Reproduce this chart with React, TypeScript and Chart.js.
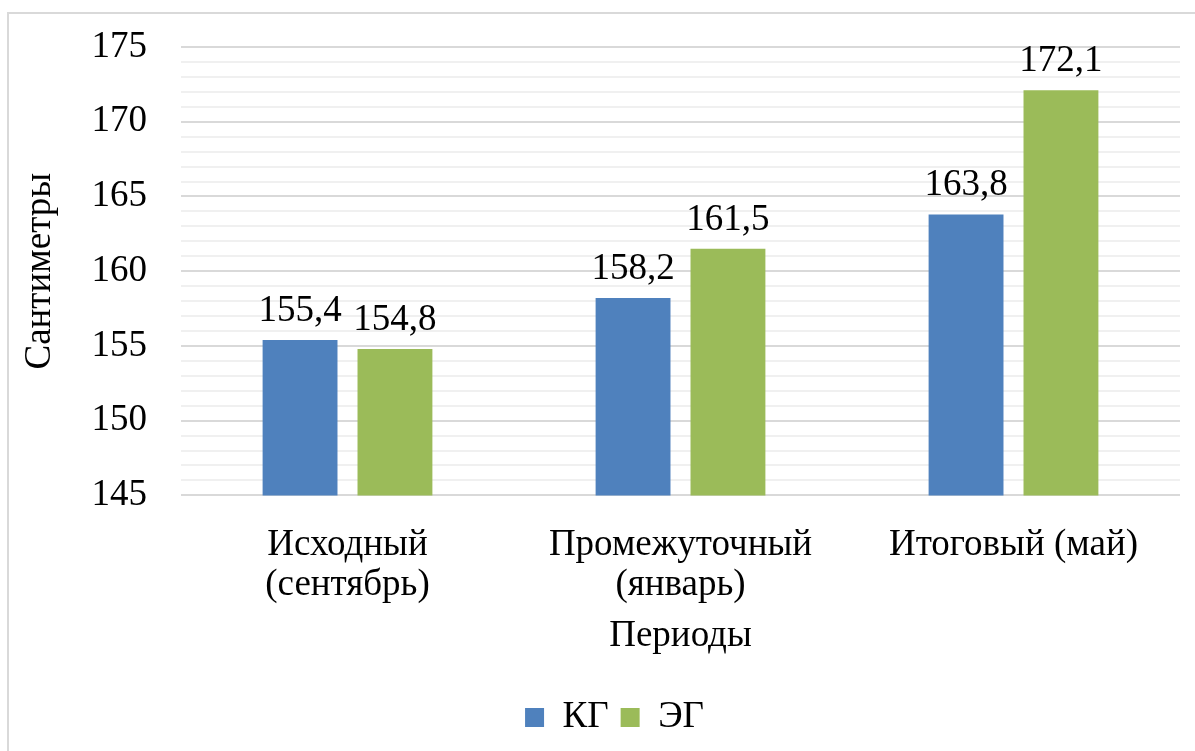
import React, { useEffect, useRef } from "react";
import { Chart, registerables } from "chart.js";

Chart.register(...registerables);

const categories: (string | string[])[] = [
  ["Исходный", "(сентябрь)"],
  ["Промежуточный", "(январь)"],
  "Итоговый (май)",
];
const seriesNames = ["КГ", "ЭГ"];
const kgValues = [155.4, 158.2, 163.8];
const egValues = [154.8, 161.5, 172.1];
const seriesColors = ["#4F81BD", "#9BBB59"];
const yMin = 145;
const yMax = 175;
const yTitle = "Сантиметры";
const xTitle = "Периоды";

const FONT = "'Liberation Serif', 'Times New Roman', serif";
const FS = 37;

const dataLabels = {
  id: "dataLabels",
  afterDatasetsDraw(chart: any) {
    const ctx = chart.ctx;
    ctx.save();
    ctx.font = `${FS}px ${FONT}`;
    ctx.fillStyle = "#000";
    ctx.textAlign = "center";
    ctx.textBaseline = "alphabetic";
    chart.data.datasets.forEach((ds: any, i: number) => {
      const meta = chart.getDatasetMeta(i);
      meta.data.forEach((bar: any, j: number) => {
        const v = ds.data[j] as number;
        ctx.fillText(v.toFixed(1).replace(".", ","), bar.x, bar.y - 19);
      });
    });
    ctx.restore();
  },
};

export default function App() {
  const ref = useRef<HTMLCanvasElement>(null);
  useEffect(() => {
    if (!ref.current) return;
    const chart = new Chart(ref.current, {
      type: "bar",
      data: {
        labels: categories,
        datasets: [
          { label: seriesNames[0], data: kgValues, backgroundColor: seriesColors[0], categoryPercentage: 0.57, barPercentage: 0.789 },
          { label: seriesNames[1], data: egValues, backgroundColor: seriesColors[1], categoryPercentage: 0.57, barPercentage: 0.789 },
        ],
      },
      options: {
        animation: false,
        responsive: false,
        maintainAspectRatio: false,
        layout: { padding: { top: 33, right: 0, left: 0, bottom: 7 } },
        plugins: {
          tooltip: { enabled: false },
          legend: {
            position: "bottom",
            labels: {
              boxWidth: 19,
              boxHeight: 19,
              color: "#000",
              font: { family: FONT, size: FS },
              padding: 12,
            },
          },
        },
        scales: {
          x: {
            grid: { display: false, drawTicks: false },
            border: { display: false },
            ticks: { color: "#000", font: { family: FONT, size: FS, lineHeight: 1.08 }, padding: 30, maxRotation: 0, autoSkip: false },
            title: { display: true, text: xTitle, color: "#000", font: { family: FONT, size: FS, lineHeight: 1.1 }, padding: { top: -19, bottom: 30 } },
          },
          y: {
            min: yMin,
            max: yMax,
            border: { display: false },
            afterFit: (s: any) => { s.width = 172; },
            grid: {
              drawTicks: true,
              tickLength: 34,
              tickColor: "rgba(0,0,0,0)",
              lineWidth: 2,
              color: (c: any) => (c.tick && c.tick.value % 5 === 0 ? "#d9d9d9" : "#f0f0f0"),
            },
            ticks: {
              stepSize: 1,
              autoSkip: false,
              padding: 0,
              color: "#000",
              font: { family: FONT, size: FS },
              callback: (v: any) => (Number(v) % 5 === 0 ? String(v) : ""),
            },
            title: { display: true, text: yTitle, color: "#000", font: { family: FONT, size: FS }, padding: { top: 9, bottom: 0 } },
          },
          yRight: {
            position: "right",
            display: true,
            grid: { display: false, drawTicks: false },
            border: { display: false },
            ticks: { display: false },
            afterFit: (s: any) => { s.width = 40; },
          },
        },
      },
      plugins: [dataLabels],
    });
    return () => chart.destroy();
  }, []);
  return (
    <div
      style={{
        position: "absolute",
        left: 7,
        top: 12,
        width: 1188,
        height: 739,
        overflow: "hidden",
        borderTop: "2px solid #d9d9d9",
        borderLeft: "2px solid #d9d9d9",
        background: "#fff",
      }}
    >
      <canvas ref={ref} width={1211} height={739} style={{ width: 1211, height: 739, display: "block" }} />
    </div>
  );
}
